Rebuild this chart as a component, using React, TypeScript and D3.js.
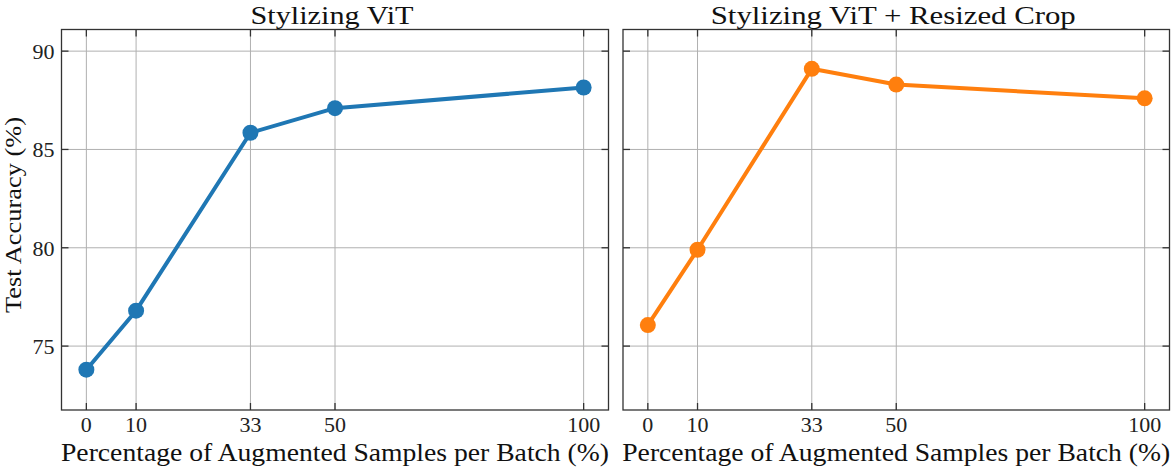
import { useEffect, useRef } from 'react';
import * as d3 from 'd3';

const percentages = [0, 10, 33, 50, 100];
const plainAcc = [73.8, 76.8, 85.85, 87.1, 88.15];
const cropAcc = [76.07, 79.9, 89.1, 88.3, 87.6];
const yTicks = [75, 80, 85, 90];
const titles = ['Stylizing ViT', 'Stylizing ViT + Resized Crop'];
const colors = ['#1f77b4', '#ff7f0e'];

const W = 1171;
const H = 470;
const font = '"Liberation Serif", "DejaVu Serif", serif';

function App() {
  const ref = useRef<SVGSVGElement>(null);

  useEffect(() => {
    const svg = d3.select(ref.current);
    svg.selectAll('*').remove();

    const top = 29.5;
    const bottom = 410;
    const panels = [
      { left: 61.5, right: 608.5, values: plainAcc, showY: true, titleLen: 163 },
      { left: 623, right: 1169.5, values: cropAcc, showY: false, titleLen: 365 },
    ];

    const y = d3.scaleLinear().domain([71.75, 91.1]).range([bottom, top]);

    panels.forEach((p, i) => {
      const x = d3.scaleLinear().domain([-5, 105]).range([p.left, p.right]);
      const g = svg.append('g');

      // grid
      g.selectAll('line.gx')
        .data(percentages)
        .enter()
        .append('line')
        .attr('x1', (d) => x(d)).attr('x2', (d) => x(d))
        .attr('y1', top).attr('y2', bottom)
        .attr('stroke', '#b0b0b0').attr('stroke-width', 1);
      g.selectAll('line.gy')
        .data(yTicks)
        .enter()
        .append('line')
        .attr('x1', p.left).attr('x2', p.right)
        .attr('y1', (d) => y(d)).attr('y2', (d) => y(d))
        .attr('stroke', '#b0b0b0').attr('stroke-width', 1);

      // inward ticks on all four sides
      const tl = 7;
      percentages.forEach((d) => {
        g.append('line').attr('x1', x(d)).attr('x2', x(d)).attr('y1', bottom).attr('y2', bottom - tl)
          .attr('stroke', '#333').attr('stroke-width', 1.3);
        g.append('line').attr('x1', x(d)).attr('x2', x(d)).attr('y1', top).attr('y2', top + tl)
          .attr('stroke', '#333').attr('stroke-width', 1.3);
        g.append('text').attr('x', x(d)).attr('y', bottom + 22)
          .attr('text-anchor', 'middle').attr('font-family', font).attr('font-size', 22)
          .attr('fill', '#222').text(d);
      });
      yTicks.forEach((d) => {
        g.append('line').attr('x1', p.left).attr('x2', p.left + tl).attr('y1', y(d)).attr('y2', y(d))
          .attr('stroke', '#333').attr('stroke-width', 1.3);
        g.append('line').attr('x1', p.right).attr('x2', p.right - tl).attr('y1', y(d)).attr('y2', y(d))
          .attr('stroke', '#333').attr('stroke-width', 1.3);
        if (p.showY) {
          g.append('text').attr('x', p.left - 7).attr('y', y(d) + 8)
            .attr('text-anchor', 'end').attr('font-family', font).attr('font-size', 22)
            .attr('fill', '#222').text(d);
        }
      });

      // frame
      g.append('rect').attr('x', p.left).attr('y', top)
        .attr('width', p.right - p.left).attr('height', bottom - top)
        .attr('fill', 'none').attr('stroke', '#333').attr('stroke-width', 1.3);

      // line and markers
      const line = d3.line<number>().x((_, k) => x(percentages[k])).y((d) => y(d));
      g.append('path').attr('d', line(p.values))
        .attr('fill', 'none').attr('stroke', colors[i]).attr('stroke-width', 4)
        .attr('stroke-linejoin', 'round');
      g.selectAll('circle')
        .data(p.values)
        .enter()
        .append('circle')
        .attr('cx', (_, k) => x(percentages[k]))
        .attr('cy', (d) => y(d))
        .attr('r', 8)
        .attr('fill', colors[i]);

      // title and x label
      g.append('text').attr('x', (p.left + p.right) / 2 - 3).attr('y', 24)
        .attr('text-anchor', 'middle').attr('font-family', font).attr('font-size', 26)
        .attr('textLength', p.titleLen).attr('lengthAdjust', 'spacingAndGlyphs')
        .attr('fill', '#111').text(titles[i]);
      g.append('text').attr('x', (p.left + p.right) / 2).attr('y', 461)
        .attr('text-anchor', 'middle').attr('font-family', font).attr('font-size', 25)
        .attr('textLength', 548).attr('lengthAdjust', 'spacingAndGlyphs')
        .attr('fill', '#111').text('Percentage of Augmented Samples per Batch (%)');
    });

    svg.append('text')
      .attr('transform', 'translate(21, 215) rotate(-90)')
      .attr('text-anchor', 'middle').attr('font-family', font).attr('font-size', 23)
      .attr('textLength', 196).attr('lengthAdjust', 'spacingAndGlyphs')
      .attr('fill', '#111').text('Test Accuracy (%)');
  }, []);

  return (
    <div style={{ position: 'absolute', left: 0, top: 0 }}>
      <svg ref={ref} width={W} height={H} style={{ display: 'block', background: '#fff' }} />
    </div>
  );
}

export default App;
